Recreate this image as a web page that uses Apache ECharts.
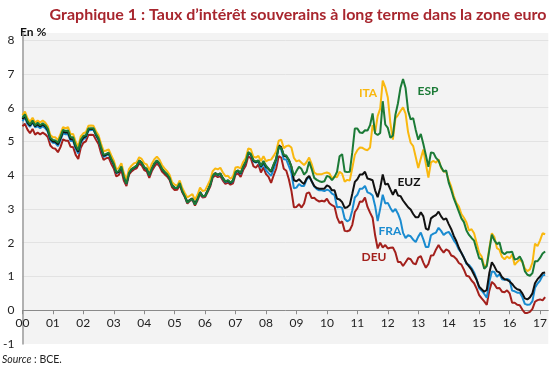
<!DOCTYPE html>
<html>
<head>
<meta charset="utf-8">
<script src="https://cdn.jsdelivr.net/npm/echarts@6/dist/echarts.min.js"></script>
<style>
html,body{margin:0;padding:0;background:#fff;}
#c{width:550px;height:369px;}
</style>
</head>
<body>
<div id="c"></div>
<script>
// Monthly data, Jan 2000 .. Mar 2017
var startYear = 2000;
var yearTicks = ['00','01','02','03','04','05','06','07','08','09','10','11','12','13','14','15','16','17'];
var yTicks = [-1,0,1,2,3,4,5,6,7,8];

var DEU = [
5.45,5.52,5.35,5.24,5.37,5.20,5.26,5.21,5.26,5.21,5.13,4.88,
4.80,4.78,4.68,4.83,5.06,5.02,5.02,4.84,4.83,4.60,4.48,4.81,
4.96,5.00,5.19,5.20,5.19,5.05,4.92,4.65,4.45,4.50,4.52,4.34,
4.20,3.96,4.01,4.15,3.83,3.68,4.02,4.11,4.17,4.20,4.35,4.29,
4.15,4.11,3.92,4.12,4.25,4.35,4.26,4.11,4.03,3.96,3.86,3.64,
3.56,3.57,3.71,3.49,3.35,3.16,3.24,3.27,3.10,3.25,3.44,3.34,
3.35,3.50,3.66,3.93,3.99,3.94,3.97,3.84,3.74,3.78,3.72,3.76,
4.02,4.05,3.95,4.15,4.28,4.56,4.50,4.27,4.22,4.32,4.08,4.23,
4.03,3.95,3.77,3.99,4.19,4.56,4.52,4.19,4.13,3.88,3.54,3.05,
3.06,3.14,3.04,3.16,3.46,3.49,3.32,3.33,3.26,3.22,3.24,3.22,
3.30,3.17,3.11,3.07,2.75,2.58,2.63,2.35,2.34,2.37,2.53,2.91,
3.02,3.22,3.21,3.34,3.06,2.89,2.74,2.22,1.83,2.00,1.86,1.93,
1.83,1.85,1.86,1.71,1.43,1.43,1.31,1.42,1.54,1.51,1.39,1.36,
1.56,1.60,1.41,1.26,1.37,1.62,1.63,1.80,1.93,1.80,1.71,1.80,
1.76,1.62,1.59,1.52,1.40,1.35,1.20,1.02,1.00,0.88,0.80,0.64,
0.45,0.35,0.26,0.16,0.58,0.84,0.77,0.65,0.66,0.55,0.53,0.59,
0.50,0.22,0.22,0.16,0.15,0.02,-0.08,-0.08,-0.05,0.04,0.25,0.30,
0.32,0.29,0.39];

var FRA = [
5.60,5.70,5.51,5.43,5.56,5.42,5.45,5.39,5.45,5.39,5.29,5.03,
4.96,4.95,4.86,5.04,5.24,5.21,5.21,5.01,5.01,4.78,4.64,4.95,
5.07,5.11,5.32,5.34,5.34,5.17,5.04,4.78,4.54,4.58,4.63,4.45,
4.31,4.06,4.09,4.24,3.93,3.74,4.06,4.17,4.21,4.27,4.43,4.37,
4.22,4.18,3.99,4.19,4.33,4.42,4.33,4.18,4.09,4.02,3.91,3.69,
3.63,3.62,3.77,3.53,3.38,3.19,3.26,3.30,3.13,3.30,3.49,3.37,
3.38,3.54,3.71,3.98,4.05,3.99,4.03,3.89,3.79,3.83,3.76,3.82,
4.08,4.12,4.03,4.23,4.38,4.65,4.60,4.41,4.37,4.40,4.21,4.33,
4.15,4.06,3.98,4.17,4.40,4.84,4.75,4.47,4.46,4.27,4.07,3.61,
3.63,3.74,3.68,3.68,3.87,3.95,3.82,3.66,3.59,3.55,3.55,3.53,
3.57,3.54,3.45,3.41,3.05,3.06,3.03,2.71,2.63,2.68,2.96,3.34,
3.42,3.60,3.60,3.68,3.49,3.46,3.40,3.09,2.64,3.01,3.42,3.16,
3.18,3.03,2.91,3.00,2.86,2.66,2.29,2.14,2.22,2.19,2.09,2.02,
2.18,2.30,2.10,1.87,1.87,2.22,2.27,2.30,2.44,2.35,2.23,2.29,
2.32,2.21,2.07,1.96,1.80,1.70,1.56,1.37,1.34,1.25,1.12,0.92,
0.65,0.58,0.48,0.37,0.84,1.15,1.13,0.99,1.07,0.92,0.90,0.93,
0.89,0.58,0.56,0.52,0.52,0.39,0.19,0.16,0.17,0.27,0.67,0.79,
0.88,1.03,1.05];

var EUZ = [
5.66,5.75,5.56,5.47,5.59,5.45,5.50,5.44,5.50,5.44,5.33,5.07,
5.00,4.99,4.91,5.09,5.29,5.26,5.26,5.06,5.06,4.83,4.69,5.00,
5.11,5.15,5.35,5.37,5.37,5.20,5.07,4.81,4.57,4.61,4.65,4.47,
4.32,4.07,4.10,4.25,3.94,3.75,4.06,4.17,4.22,4.27,4.43,4.37,
4.23,4.18,4.00,4.20,4.34,4.43,4.34,4.18,4.09,4.02,3.91,3.69,
3.63,3.62,3.77,3.53,3.38,3.20,3.27,3.31,3.14,3.31,3.50,3.38,
3.39,3.55,3.72,3.99,4.06,4.01,4.05,3.91,3.81,3.84,3.77,3.84,
4.10,4.13,4.05,4.25,4.39,4.67,4.62,4.43,4.39,4.43,4.26,4.39,
4.25,4.18,4.10,4.30,4.48,4.88,4.83,4.58,4.55,4.45,4.25,3.85,
3.82,3.88,3.80,3.74,3.90,3.98,3.82,3.68,3.62,3.60,3.60,3.60,
3.70,3.66,3.55,3.55,3.30,3.28,3.20,3.03,3.05,3.12,3.45,3.80,
3.88,4.02,4.02,4.10,3.90,3.88,3.85,3.55,3.35,3.62,4.02,3.72,
3.75,3.58,3.42,3.58,3.40,3.38,3.25,3.15,3.05,2.98,2.85,2.75,
2.75,2.90,2.78,2.42,2.38,2.72,2.78,2.82,2.92,2.78,2.68,2.72,
2.55,2.40,2.20,2.05,1.85,1.70,1.55,1.40,1.30,1.20,1.05,0.90,
0.70,0.62,0.55,0.60,1.10,1.42,1.30,1.15,1.12,0.98,0.92,0.90,
0.85,0.78,0.68,0.62,0.60,0.50,0.35,0.32,0.38,0.50,0.80,0.92,
1.00,1.10,1.12];

var ITA = [
5.78,5.88,5.68,5.58,5.70,5.55,5.62,5.56,5.62,5.56,5.45,5.19,
5.12,5.12,5.04,5.22,5.42,5.39,5.42,5.21,5.22,4.99,4.84,5.15,
5.24,5.27,5.46,5.47,5.46,5.30,5.18,4.93,4.71,4.73,4.76,4.59,
4.43,4.18,4.21,4.35,4.06,3.87,4.18,4.28,4.35,4.38,4.53,4.48,
4.35,4.32,4.14,4.34,4.47,4.55,4.46,4.30,4.20,4.12,4.01,3.79,
3.72,3.69,3.84,3.62,3.47,3.34,3.39,3.44,3.27,3.42,3.63,3.53,
3.55,3.70,3.86,4.12,4.20,4.17,4.22,4.08,3.97,3.98,3.89,3.97,
4.23,4.24,4.20,4.39,4.50,4.79,4.77,4.55,4.52,4.57,4.42,4.56,
4.41,4.45,4.46,4.57,4.70,5.02,5.05,4.80,4.86,4.88,4.82,4.51,
4.41,4.44,4.37,4.30,4.39,4.52,4.33,4.08,4.03,4.03,4.03,4.06,
4.08,4.05,3.90,3.96,3.94,4.10,4.04,3.81,3.86,3.84,4.21,4.60,
4.74,4.82,4.81,4.76,4.74,4.82,5.48,5.27,5.75,5.97,6.80,6.60,
6.30,5.55,5.05,5.68,5.78,5.90,6.01,5.82,5.27,4.96,4.86,4.54,
4.21,4.49,4.76,4.33,3.93,4.38,4.42,4.37,4.47,4.21,4.11,4.10,
3.85,3.66,3.38,3.18,3.07,2.85,2.74,2.60,2.36,2.40,2.28,1.99,
1.70,1.59,1.29,1.35,1.83,2.28,2.17,1.84,1.79,1.58,1.51,1.59,
1.53,1.65,1.34,1.43,1.50,1.43,1.24,1.16,1.21,1.41,1.97,1.90,
2.07,2.28,2.25];

var ESP = [
5.70,5.80,5.60,5.50,5.62,5.48,5.55,5.48,5.54,5.48,5.37,5.11,
5.04,5.03,4.96,5.14,5.34,5.31,5.32,5.12,5.12,4.88,4.74,5.05,
5.16,5.18,5.38,5.39,5.39,5.22,5.09,4.83,4.60,4.63,4.67,4.49,
4.34,4.09,4.12,4.26,3.95,3.75,4.07,4.18,4.23,4.28,4.43,4.37,
4.24,4.19,4.00,4.20,4.35,4.44,4.35,4.19,4.10,4.03,3.92,3.69,
3.63,3.62,3.77,3.53,3.38,3.19,3.26,3.30,3.13,3.30,3.49,3.38,
3.38,3.54,3.71,3.98,4.05,4.01,4.05,3.91,3.81,3.85,3.78,3.84,
4.10,4.14,4.06,4.26,4.40,4.68,4.63,4.45,4.40,4.44,4.28,4.42,
4.28,4.19,4.12,4.32,4.48,4.85,4.80,4.60,4.58,4.45,4.25,3.98,
4.12,4.25,4.18,4.02,4.10,4.40,4.18,3.92,3.86,3.82,3.80,3.82,
3.98,3.95,3.85,3.95,4.10,4.56,4.62,4.11,4.09,4.10,4.68,5.38,
5.38,5.26,5.25,5.33,5.32,5.48,5.83,5.24,5.19,5.25,6.19,5.50,
5.40,5.11,5.17,5.79,6.13,6.59,6.85,6.58,5.91,5.65,5.69,5.34,
5.05,5.22,4.92,4.59,4.25,4.67,4.66,4.51,4.43,4.24,4.11,4.14,
3.78,3.56,3.31,3.12,2.92,2.72,2.61,2.36,2.23,2.14,2.06,1.79,
1.54,1.51,1.23,1.31,1.78,2.24,2.07,1.96,2.01,1.72,1.66,1.72,
1.72,1.73,1.50,1.52,1.59,1.45,1.16,1.05,1.02,1.10,1.45,1.45,
1.55,1.68,1.74];

var seriesNames = ['DEU','FRA','EUZ','ITA','ESP'];
var seriesData = [DEU, FRA, EUZ, ITA, ESP];
var seriesColors = ['#a3201c','#1a8bd0','#111111','#f9b80f','#1b7a36'];

function toPairs(arr){
  return arr.map(function(v,i){ return [startYear + i/12, v]; });
}

var FONT = 'Lato, "Open Sans", sans-serif';
var chart = echarts.init(document.getElementById('c'), null, {renderer:'canvas'});

var yMin = -1, yMax = 8.21, gridTop = 33, gridBottom = 25;
var pxPerUnit = (369 - gridTop - gridBottom) / (yMax - yMin);

var series = seriesNames.map(function(n,k){
  return {
    name: n, type: 'line', data: toPairs(seriesData[k]),
    showSymbol: false, symbol: 'none', z: 2 + k,
    lineStyle: {color: seriesColors[k], width: 2},
    itemStyle: {color: seriesColors[k]}
  };
});

chart.setOption({
  animation: false,
  backgroundColor: '#ffffff',
  title: {
    text: 'Graphique 1 : Taux d\u2019intérêt souverains à long terme dans la zone euro',
    left: 293, top: 2, textAlign: 'center',
    textStyle: {color: '#a8262e', fontSize: 16, fontWeight: 'bold', fontFamily: FONT}
  },
  grid: {left: 21, right: 0, top: gridTop, bottom: gridBottom, show: true, backgroundColor: '#f3f3f3', borderWidth: 0},
  xAxis: {
    type: 'value', min: 2000, max: 2017.27, interval: 1,
    position: 'bottom',
    offset: -(0 - yMin) * pxPerUnit,
    axisLine: {show: true, onZero: false, lineStyle: {color: '#8a8a8a', width: 1}},
    axisTick: {show: true, length: 4, inside: false, lineStyle: {color: '#8a8a8a'}},
    splitLine: {show: false},
    axisLabel: {
      showMaxLabel: false, margin: 7, color: '#222', fontSize: 12, fontFamily: FONT,
      formatter: function(v){
        var idx = Math.round(v - startYear);
        return (Math.abs(v - Math.round(v)) < 1e-6 && yearTicks[idx] !== undefined) ? yearTicks[idx] : '';
      }
    }
  },
  yAxis: {
    type: 'value', min: yMin, max: yMax, interval: 1,
    axisLine: {show: true, onZero: false, lineStyle: {color: '#9a9a9a', width: 1.5}},
    axisTick: {show: false},
    splitLine: {show: true, showMinLine: false, showMaxLine: false, lineStyle: {color: '#e2e2e2', width: 1}},
    axisLabel: {
      showMaxLabel: false, margin: 8, color: '#222', fontSize: 12, fontFamily: FONT,
      formatter: function(v){ return yTicks.indexOf(Math.round(v*100)/100) >= 0 ? String(v) : ''; }
    }
  },
  series: series,
  graphic: [
    {type: 'text', left: 20, top: 26, style: {text: 'En %', font: 'bold 12px ' + FONT, fill: '#111'}},
    {type: 'text', left: 2, top: 354, style: {
      text: '{i|Source} : BCE.',
      rich: {i: {fontStyle: 'italic', fontSize: 10.5, fontFamily: FONT, fill: '#222'}},
      font: '10.5px ' + FONT, fill: '#222'}},
    {type: 'text', x: 368, y: 93, style: {text: 'ITA', font: 'bold 12px ' + FONT, fill: '#f9b80f', align: 'center', verticalAlign: 'middle'}},
    {type: 'text', x: 428, y: 91, style: {text: 'ESP', font: 'bold 12px ' + FONT, fill: '#1b7a36', align: 'center', verticalAlign: 'middle'}},
    {type: 'text', x: 409, y: 182, style: {text: 'EUZ', font: 'bold 12px ' + FONT, fill: '#111111', align: 'center', verticalAlign: 'middle'}},
    {type: 'text', x: 390, y: 231, style: {text: 'FRA', font: 'bold 12px ' + FONT, fill: '#1a8bd0', align: 'center', verticalAlign: 'middle'}},
    {type: 'text', x: 374, y: 257, style: {text: 'DEU', font: 'bold 12px ' + FONT, fill: '#a3201c', align: 'center', verticalAlign: 'middle'}}
  ]
});
</script>
</body>
</html>
